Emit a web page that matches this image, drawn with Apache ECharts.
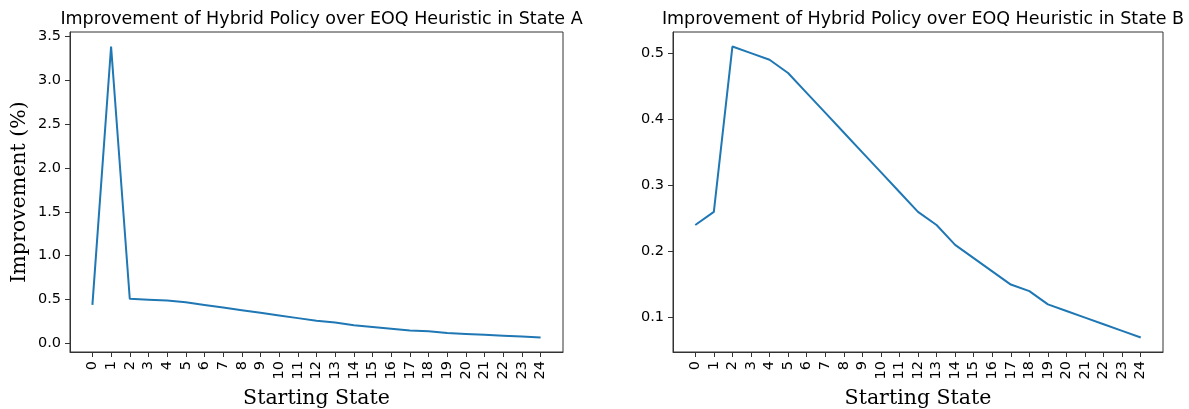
<!DOCTYPE html>
<html>
<head>
<meta charset="utf-8">
<script src="https://cdn.jsdelivr.net/npm/echarts@6/dist/echarts.min.js"></script>
<style>
  html, body { margin: 0; padding: 0; background: #fff; }
  #chart { width: 1189px; height: 409px; }
</style>
</head>
<body>
<div id="chart"></div>
<script>
// Starting states 0..24
const states = [0,1,2,3,4,5,6,7,8,9,10,11,12,13,14,15,16,17,18,19,20,21,22,23,24];
// Improvement (%) of the hybrid policy over the EOQ heuristic
const improvementA = [0.44,3.38,0.51,0.50,0.49,0.47,0.44,0.41,0.38,0.35,0.32,0.29,0.26,0.24,0.21,0.19,0.17,0.15,0.14,0.12,0.11,0.10,0.09,0.08,0.07];
const improvementB = [0.24,0.26,0.51,0.50,0.49,0.47,0.44,0.41,0.38,0.35,0.32,0.29,0.26,0.24,0.21,0.19,0.17,0.15,0.14,0.12,0.11,0.10,0.09,0.08,0.07];
// Tick values
const yTicksA = [0.0,0.5,1.0,1.5,2.0,2.5,3.0,3.5];
const yTicksB = [0.1,0.2,0.3,0.4,0.5];
const titleA = 'Improvement of Hybrid Policy over EOQ Heuristic in State A';
const titleB = 'Improvement of Hybrid Policy over EOQ Heuristic in State B';

const sans = '"DejaVu Sans", sans-serif';
const serif = '"DejaVu Serif", serif';
const frame = '#333';
const tickFont = 14.5;

// 5% padding around the data range, like the usual plotting default
function padded(vals) {
  const lo = Math.min(...vals), hi = Math.max(...vals), m = (hi - lo) * 0.05;
  return [lo - m, hi + m];
}
const xr = padded(states);
const ya = padded(improvementA);
const yb = padded(improvementB);

function xAxis(idx) {
  return {
    type: 'value', gridIndex: idx, min: xr[0], max: xr[1],
    name: 'Starting State', nameLocation: 'middle', nameGap: 36,
    nameTextStyle: { fontFamily: serif, fontSize: 20.5, color: '#000' },
    axisLine: { show: true, onZero: false, lineStyle: { color: frame, width: 1 } },
    axisTick: { show: true, length: 5, customValues: states, lineStyle: { color: frame } },
    axisLabel: { customValues: states, rotate: 90, fontFamily: sans, fontSize: tickFont, color: '#000', margin: 9 },
    splitLine: { show: false }
  };
}
function yAxis(idx, range, ticks, name) {
  return {
    type: 'value', gridIndex: idx, min: range[0], max: range[1],
    name: name, nameLocation: 'middle', nameGap: 40,
    nameTextStyle: { fontFamily: serif, fontSize: 20.5, color: '#000' },
    axisLine: { show: true, onZero: false, lineStyle: { color: frame, width: 1 } },
    axisTick: { show: true, length: 5, customValues: ticks, lineStyle: { color: frame } },
    axisLabel: { customValues: ticks, formatter: v => v.toFixed(1), fontFamily: sans, fontSize: tickFont, color: '#000', margin: 9 },
    splitLine: { show: false }
  };
}
function lineSeries(idx, vals) {
  return {
    type: 'line', xAxisIndex: idx, yAxisIndex: idx,
    data: states.map((s, i) => [s, vals[i]]),
    showSymbol: false, symbol: 'none',
    lineStyle: { color: '#1f77b4', width: 2 },
    animation: false
  };
}

const chart = echarts.init(document.getElementById('chart'), null, { renderer: 'canvas' });
chart.setOption({
  backgroundColor: '#fff',
  animation: false,
  title: [
    { text: titleA, left: 316.5, textAlign: 'center', top: 5, textStyle: { fontFamily: sans, fontSize: 17.5, fontWeight: 'normal', color: '#000' } },
    { text: titleB, left: 918, textAlign: 'center', top: 5, textStyle: { fontFamily: sans, fontSize: 17.5, fontWeight: 'normal', color: '#000' } }
  ],
  grid: [
    { left: 70, top: 32, width: 493, height: 320, outerBoundsMode: 'none', containLabel: false, show: true, borderColor: frame, borderWidth: 1, backgroundColor: 'transparent' },
    { left: 673, top: 32, width: 490, height: 320, outerBoundsMode: 'none', containLabel: false, show: true, borderColor: frame, borderWidth: 1, backgroundColor: 'transparent' }
  ],
  xAxis: [xAxis(0), xAxis(1)],
  yAxis: [yAxis(0, ya, yTicksA, 'Improvement (%)'), yAxis(1, yb, yTicksB, '')],
  series: [lineSeries(0, improvementA), lineSeries(1, improvementB)]
});
</script>
</body>
</html>
